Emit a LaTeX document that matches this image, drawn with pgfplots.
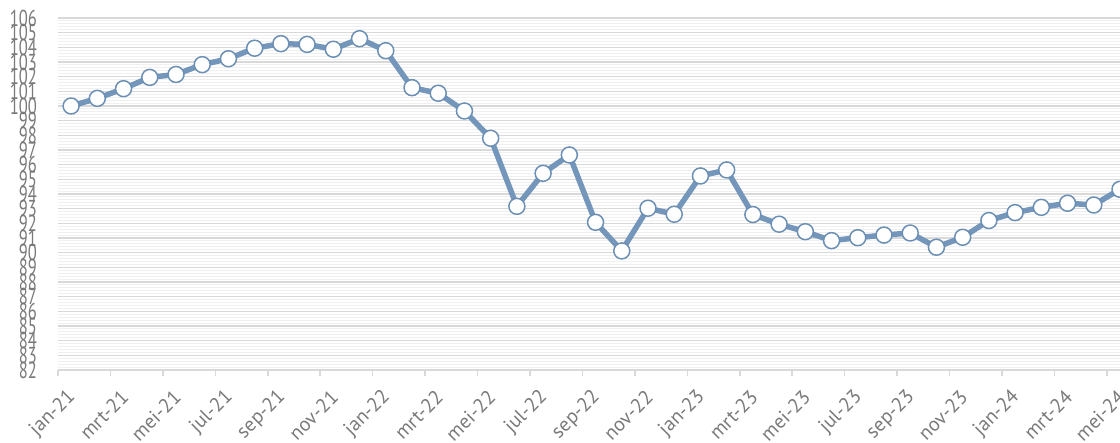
\documentclass[border=0pt]{standalone}
\usepackage{fontspec}
\setmainfont{PT Sans}
\usepackage{pgfplots}
\pgfplotsset{compat=1.18}
\definecolor{linec}{HTML}{7396BA}
\definecolor{markc}{HTML}{6C90B5}
\definecolor{txt}{HTML}{7A7A7A}
\definecolor{majg}{HTML}{D9D9D9}
\definecolor{ming}{HTML}{F0F0F0}
\pgfplotstableread{
x y
0 100.0
1 100.52
2 101.18
3 101.95
4 102.15
5 102.82
6 103.22
7 103.94
8 104.25
9 104.2
10 103.87
11 104.59
12 103.77
13 101.25
14 100.87
15 99.66
16 97.8
17 93.16
18 95.41
19 96.66
20 92.07
21 90.12
22 93.03
23 92.62
24 95.23
25 95.64
26 92.6
27 91.94
28 91.43
29 90.82
30 91.02
31 91.2
32 91.34
33 90.37
34 91.05
35 92.19
36 92.73
37 93.09
38 93.37
39 93.25
40 94.32
}\datatable
\begin{document}
\begin{tikzpicture}
\path[use as bounding box] (-58pt,-73pt) rectangle (1062pt,370pt);
\clip (-58pt,-73pt) rectangle (1062pt,370pt);
\begin{axis}[
  at={(0pt,0pt)}, anchor=south west,
  scale only axis, width=1062pt, height=352pt,
  xmin=-0.5, xmax=40, ymin=82, ymax=106,
  axis x line*=bottom, axis y line*=left,
  x axis line style={majg, line width=2pt},
  y axis line style={draw=none},
  xtick={0,2,...,40},
  xticklabels={jan-21,mrt-21,mei-21,jul-21,sep-21,nov-21,jan-22,mrt-22,mei-22,jul-22,sep-22,nov-22,jan-23,mrt-23,mei-23,jul-23,sep-23,nov-23,jan-24,mrt-24,mei-24},
  minor xtick={-0.5,1.5,...,39.5},
  ytick={82,83,...,106},
  minor y tick num=4,
  major tick length=0pt, minor tick length=6pt, tick align=outside,
  major x tick style={draw=none},
  major y tick style={draw=none},
  minor y tick style={draw=none},
  minor x tick style={majg, line width=1.5pt},
  ymajorgrids, yminorgrids,
  major y grid style={majg, line width=1.3pt},
  minor y grid style={ming, line width=0.9pt},
  /pgf/number format/assume math mode=true,
  yticklabel style={font=\fontsize{23}{23}\selectfont, text=txt, inner sep=0pt, xshift=-21pt, anchor=east, xscale=0.72},
  xticklabel style={font=\fontsize{20}{20}\selectfont, text=txt, rotate=45, anchor=east, inner sep=0pt, xshift=-16pt, yshift=-18pt},
]
\addplot[linec, line width=5.5pt, line join=round, mark=*, mark size=8pt,
  mark options={fill=white, draw=markc, line width=1.5pt}] table[x=x,y=y] {\datatable};
\end{axis}
\end{tikzpicture}
\end{document}
